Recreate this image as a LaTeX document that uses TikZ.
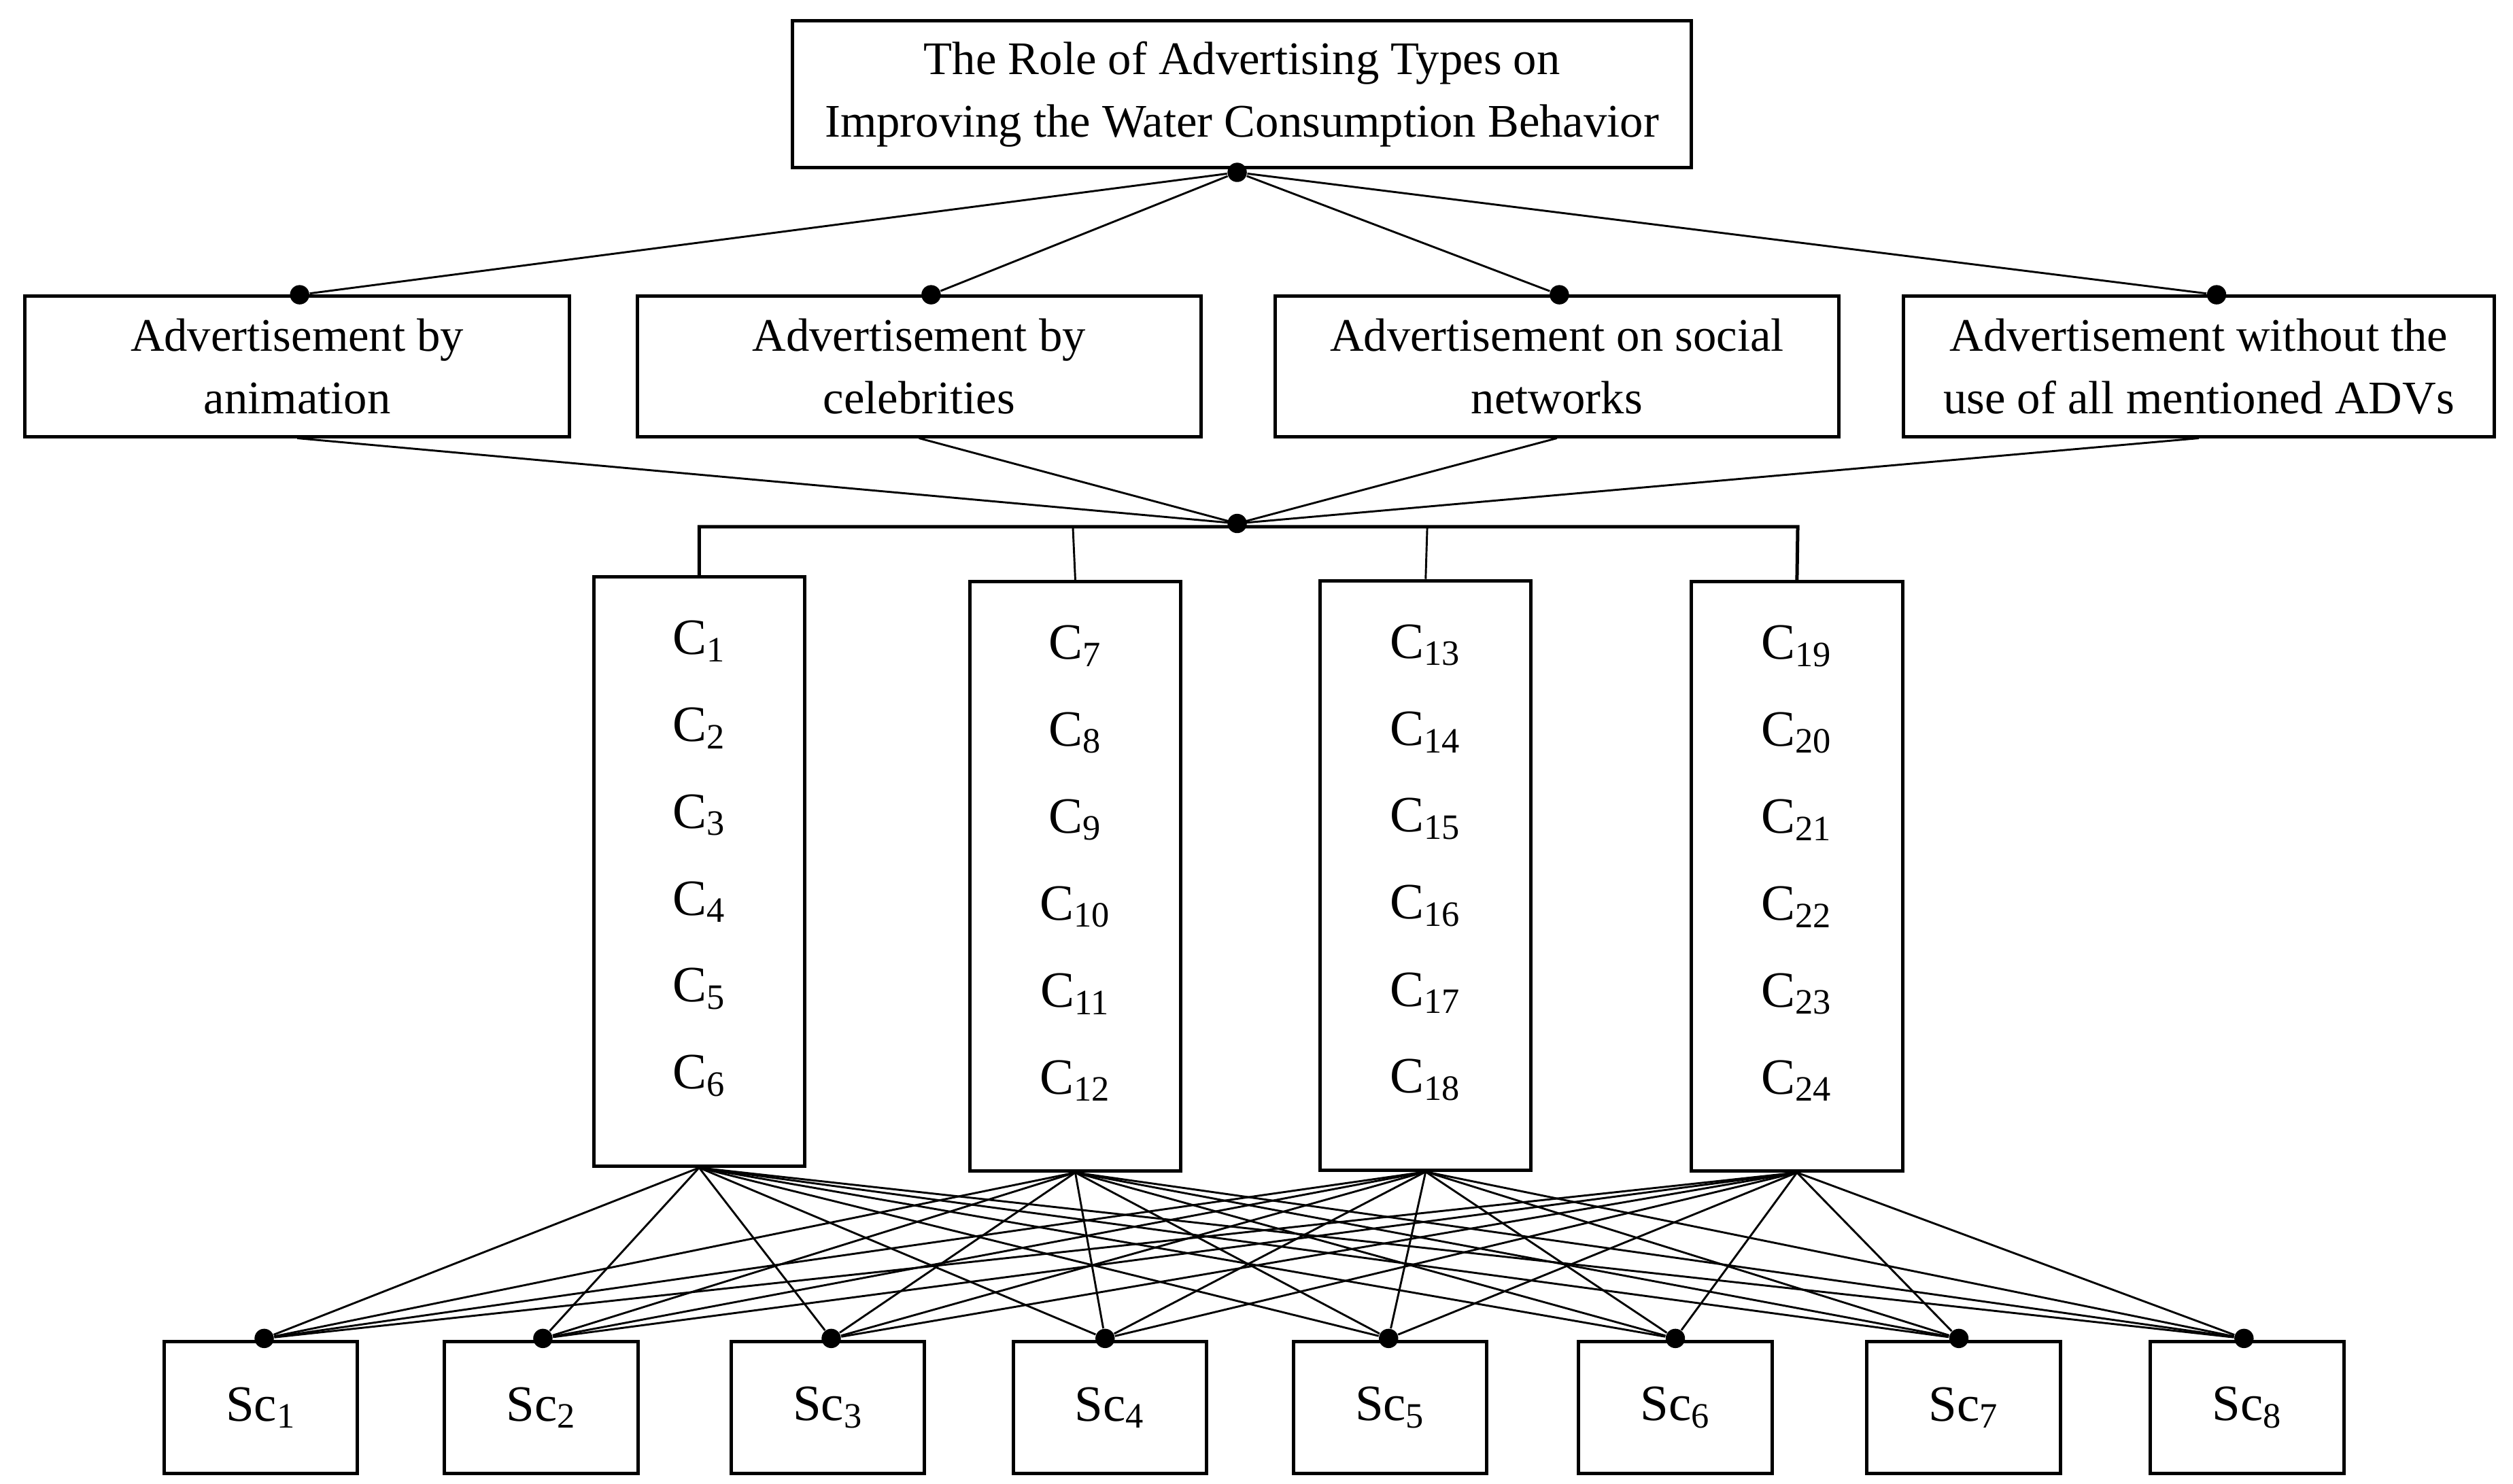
\documentclass[tikz,border=0pt]{standalone}
\usepackage{fontspec}
\setmainfont{Liberation Serif}
\begin{document}
\begin{tikzpicture}[x=0.02cm,y=-0.02cm,
  box/.style={draw,line width=1.2pt,align=center,inner sep=0pt,font=\fontsize{16.5}{22}\selectfont},
  ln/.style={line width=0.7pt},
  dot/.style={fill=black,circle,inner sep=0pt,minimum size=0.24cm}]
\useasboundingbox (0,0) rectangle (1560,921);
% top
\node[box,minimum width=11.16cm,minimum height=1.82cm] (top) at (771,58.5) {The Role of Advertising Types on\\Improving the Water Consumption Behavior};
\node[dot] (td) at (768,107) {};
% second row
\foreach \n/\x/\w/\t in {a/184.5/338/{Advertisement by\\animation},b/570.5/350/{Advertisement by\\celebrities},c/966.5/350/{Advertisement on social\\networks},d/1365/367/{Advertisement without the\\use of all mentioned ADVs}}{
  \node[box,minimum width=\w*0.02cm,minimum height=1.74cm] (\n) at (\x,227.5) {\t};
}
\foreach \n/\x in {a/186,b/578,c/968,d/1376}{
  \node[dot] (\n d) at (\x,183) {};
  \draw[ln] (td) -- (\n d);
  \draw[ln] (\n.south) -- (768,325);
}
\node[dot] (hub) at (768,325) {};
% C boxes
\foreach \n/\x/\y/\k in {c1/434/541/0,c2/667.5/544/6,c3/885/543.5/12,c4/1115.5/544/18}{
  \node[box,minimum width=2.62cm,minimum height=7.32cm] (\n) at (\x,\y) {};
  \foreach \i in {1,...,6}{
    \pgfmathtruncatemacro\m{\k+\i}
    \node[font=\fontsize{18}{22}\selectfont] at (\x,{\y-184+41+54*(\i-1)}) {C\textsubscript{\m}};
  }
}
\draw[line width=1.2pt] (c1.north) -- (434,327) -- (1116,327) -- (c4.north);
\draw[ln] (666,327) -- (c2.north);
\draw[ln] (886,327) -- (c3.north);
% Sc boxes
\foreach \i/\x/\d in {1/162/164,2/336/337,3/514/516,4/689/686,5/863/862,6/1040/1040,7/1219/1216,8/1395/1393}{
  \node[box,minimum width=2.4cm,minimum height=1.64cm,font=\fontsize{18}{22}\selectfont] (s\i) at (\x,874) {Sc\textsubscript{\i}};
  \node[dot] (sd\i) at (\d,831) {};
  \foreach \c in {c1,c2,c3,c4}{\draw[ln] (\c.south) -- (sd\i);}
}
\end{tikzpicture}
\end{document}
